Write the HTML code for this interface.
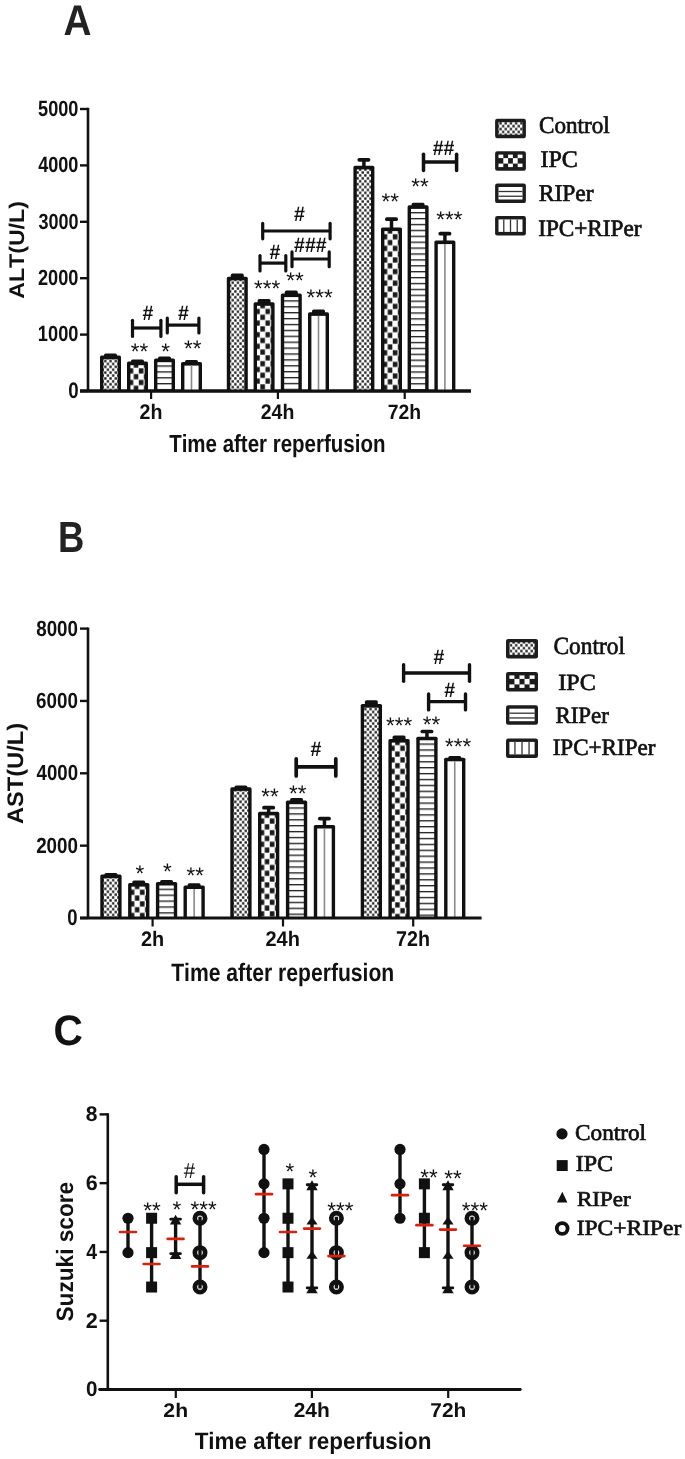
<!DOCTYPE html>
<html><head><meta charset="utf-8"><style>
html,body{margin:0;padding:0;background:#fff;}
svg{display:block;will-change:transform;}
text{font-kerning:none;text-rendering:geometricPrecision;}
</style></head><body>
<svg width="685" height="1459" viewBox="0 0 685 1459">
<defs>
<pattern id="pC" patternUnits="userSpaceOnUse" width="5.2" height="5.8">
 <rect width="5.2" height="5.8" fill="#fff"/>
 <rect x="0.2" y="0.25" width="2.3" height="2.4" fill="#1a1a1a"/>
 <rect x="2.8" y="3.15" width="2.3" height="2.4" fill="#1a1a1a"/>
</pattern>
<pattern id="pI" patternUnits="userSpaceOnUse" width="11.2" height="11.4">
 <rect width="11.2" height="11.4" fill="#fff"/>
 <rect x="0.6" y="0.6" width="4.4" height="4.6" fill="#1a1a1a"/>
 <rect x="6.2" y="6.3" width="4.4" height="4.6" fill="#1a1a1a"/>
</pattern>
<pattern id="pR" patternUnits="userSpaceOnUse" width="10" height="5.85">
 <rect width="10" height="5.85" fill="#fff"/>
 <rect y="0" width="10" height="1.35" fill="#222"/>
</pattern>
</defs>
<rect width="685" height="1459" fill="#fff"/>
<text transform="translate(63.53,34.50) scale(0.9008,1)" font-family="Liberation Sans" font-weight="bold" font-size="43.02" fill="#222">A</text>
<line x1="88" y1="107.8" x2="88" y2="391" stroke="#111" stroke-width="2.6" stroke-linecap="butt"/>
<line x1="80" y1="391" x2="471" y2="391" stroke="#111" stroke-width="2.8" stroke-linecap="butt"/>
<line x1="80" y1="391.0" x2="88" y2="391.0" stroke="#111" stroke-width="2.4" stroke-linecap="butt"/>
<line x1="80" y1="334.6" x2="88" y2="334.6" stroke="#111" stroke-width="2.4" stroke-linecap="butt"/>
<line x1="80" y1="278.2" x2="88" y2="278.2" stroke="#111" stroke-width="2.4" stroke-linecap="butt"/>
<line x1="80" y1="221.8" x2="88" y2="221.8" stroke="#111" stroke-width="2.4" stroke-linecap="butt"/>
<line x1="80" y1="165.4" x2="88" y2="165.4" stroke="#111" stroke-width="2.4" stroke-linecap="butt"/>
<line x1="80" y1="109.0" x2="88" y2="109.0" stroke="#111" stroke-width="2.4" stroke-linecap="butt"/>
<text transform="translate(38.04,115.78) scale(0.8243,1)" font-family="Liberation Sans" font-weight="bold" font-size="22.03" fill="#111">5000</text>
<text transform="translate(38.13,172.18) scale(0.8225,1)" font-family="Liberation Sans" font-weight="bold" font-size="22.03" fill="#111">4000</text>
<text transform="translate(38.39,228.55) scale(0.8188,1)" font-family="Liberation Sans" font-weight="bold" font-size="21.99" fill="#111">3000</text>
<text transform="translate(37.97,284.98) scale(0.8258,1)" font-family="Liberation Sans" font-weight="bold" font-size="22.03" fill="#111">2000</text>
<text transform="translate(37.85,341.38) scale(0.8283,1)" font-family="Liberation Sans" font-weight="bold" font-size="22.03" fill="#111">1000</text>
<text transform="translate(68.16,397.58) scale(0.8333,1)" font-family="Liberation Sans" font-weight="bold" font-size="22.46" fill="#111">0</text>
<line x1="151.1" y1="391" x2="151.1" y2="399" stroke="#111" stroke-width="2.2" stroke-linecap="butt"/>
<line x1="277.9" y1="391" x2="277.9" y2="399" stroke="#111" stroke-width="2.2" stroke-linecap="butt"/>
<line x1="404.7" y1="391" x2="404.7" y2="399" stroke="#111" stroke-width="2.2" stroke-linecap="butt"/>
<text transform="translate(139.52,418.70) scale(0.9292,1)" font-family="Liberation Sans" font-weight="bold" font-size="21.11" fill="#111">2h</text>
<text transform="translate(260.72,418.70) scale(0.9231,1)" font-family="Liberation Sans" font-weight="bold" font-size="21.11" fill="#111">24h</text>
<text transform="translate(387.77,418.70) scale(0.9312,1)" font-family="Liberation Sans" font-weight="bold" font-size="20.84" fill="#111">72h</text>
<text transform="translate(169.17,452.00) scale(0.8291,1)" font-family="Liberation Sans" font-weight="bold" font-size="24.71" fill="#111">Time after reperfusion</text>
<text transform="translate(24.00,298.20) rotate(-90) scale(1.0900,1) translate(-0.53,0)" font-family="Liberation Sans" font-weight="bold" font-size="21.22" fill="#111">ALT(U/L)</text>
<rect x="100" y="355.6" width="21" height="36.39999999999998" fill="#111" rx="1.6"/>
<rect x="103.40" y="359.20" width="14.20" height="31.80" fill="url(#pC)"/>
<rect x="104.00" y="353.60" width="13" height="3.70" rx="1.7" fill="#111"/>
<rect x="127" y="361.6" width="21" height="30.399999999999977" fill="#111" rx="1.6"/>
<pattern id="pI1" patternUnits="userSpaceOnUse" x="133.50" y="368.00" width="10.2" height="11.6"><rect width="10.2" height="11.6" fill="#fff"/><rect x="5.35" y="0.3" width="4.6" height="5.2" fill="#1a1a1a"/><rect x="0.25" y="6.1" width="4.6" height="5.2" fill="#1a1a1a"/></pattern>
<rect x="130.40" y="365.20" width="14.20" height="25.80" fill="url(#pI1)"/>
<rect x="131.00" y="359.60" width="13" height="3.70" rx="1.7" fill="#111"/>
<rect x="154" y="358.6" width="21" height="33.39999999999998" fill="#111" rx="1.6"/>
<pattern id="pR2" patternUnits="userSpaceOnUse" x="0" y="365.35" width="10" height="5.9"><rect width="10" height="5.9" fill="#fff"/><rect y="0" width="10" height="1.35" fill="#222"/></pattern>
<rect x="157.40" y="362.20" width="14.20" height="28.80" fill="url(#pR2)"/>
<rect x="158.00" y="356.60" width="13" height="3.70" rx="1.7" fill="#111"/>
<rect x="181" y="362" width="21" height="30" fill="#111" rx="1.6"/>
<rect x="184.40" y="365.60" width="14.20" height="25.40" fill="#fff"/>
<line x1="191.5" y1="365.6" x2="191.5" y2="391" stroke="#8a8a8a" stroke-width="1.6" stroke-linecap="butt"/>
<rect x="185.00" y="360.00" width="13" height="3.70" rx="1.7" fill="#111"/>
<rect x="226.8" y="276.8" width="21" height="115.19999999999999" fill="#111" rx="1.6"/>
<rect x="230.20" y="280.40" width="14.20" height="110.60" fill="url(#pC)"/>
<rect x="230.80" y="273.60" width="13" height="4.90" rx="1.7" fill="#111"/>
<rect x="253.6" y="302.2" width="21" height="89.80000000000001" fill="#111" rx="1.6"/>
<pattern id="pI3" patternUnits="userSpaceOnUse" x="260.10" y="308.60" width="10.2" height="11.6"><rect width="10.2" height="11.6" fill="#fff"/><rect x="5.35" y="0.3" width="4.6" height="5.2" fill="#1a1a1a"/><rect x="0.25" y="6.1" width="4.6" height="5.2" fill="#1a1a1a"/></pattern>
<rect x="257.00" y="305.80" width="14.20" height="85.20" fill="url(#pI3)"/>
<rect x="257.60" y="299.00" width="13" height="4.90" rx="1.7" fill="#111"/>
<rect x="280.8" y="293.5" width="21" height="98.5" fill="#111" rx="1.6"/>
<pattern id="pR4" patternUnits="userSpaceOnUse" x="0" y="300.25" width="10" height="5.9"><rect width="10" height="5.9" fill="#fff"/><rect y="0" width="10" height="1.35" fill="#222"/></pattern>
<rect x="284.20" y="297.10" width="14.20" height="93.90" fill="url(#pR4)"/>
<rect x="284.80" y="290.50" width="13" height="4.70" rx="1.7" fill="#111"/>
<rect x="308" y="312.3" width="21" height="79.69999999999999" fill="#111" rx="1.6"/>
<rect x="311.40" y="315.90" width="14.20" height="75.10" fill="#fff"/>
<line x1="318.5" y1="315.90000000000003" x2="318.5" y2="391" stroke="#8a8a8a" stroke-width="1.6" stroke-linecap="butt"/>
<rect x="312.00" y="309.50" width="13" height="4.50" rx="1.7" fill="#111"/>
<rect x="353.4" y="165.8" width="21" height="226.2" fill="#111" rx="1.6"/>
<rect x="356.80" y="169.40" width="14.20" height="221.60" fill="url(#pC)"/>
<line x1="363.9" y1="166.8" x2="363.9" y2="159.8" stroke="#111" stroke-width="3.5" stroke-linecap="butt"/>
<rect x="357.40" y="157.95" width="13" height="3.7" rx="1.85" fill="#111"/>
<rect x="381" y="227.5" width="21" height="164.5" fill="#111" rx="1.6"/>
<pattern id="pI5" patternUnits="userSpaceOnUse" x="387.50" y="233.90" width="10.2" height="11.6"><rect width="10.2" height="11.6" fill="#fff"/><rect x="5.35" y="0.3" width="4.6" height="5.2" fill="#1a1a1a"/><rect x="0.25" y="6.1" width="4.6" height="5.2" fill="#1a1a1a"/></pattern>
<rect x="384.40" y="231.10" width="14.20" height="159.90" fill="url(#pI5)"/>
<line x1="391.5" y1="228.5" x2="391.5" y2="219.2" stroke="#111" stroke-width="3.5" stroke-linecap="butt"/>
<rect x="385.00" y="217.35" width="13" height="3.7" rx="1.85" fill="#111"/>
<rect x="407.6" y="205.3" width="21" height="186.7" fill="#111" rx="1.6"/>
<pattern id="pR6" patternUnits="userSpaceOnUse" x="0" y="212.05" width="10" height="5.9"><rect width="10" height="5.9" fill="#fff"/><rect y="0" width="10" height="1.35" fill="#222"/></pattern>
<rect x="411.00" y="208.90" width="14.20" height="182.10" fill="url(#pR6)"/>
<rect x="411.60" y="202.70" width="13" height="4.30" rx="1.7" fill="#111"/>
<rect x="434.4" y="240.5" width="21" height="151.5" fill="#111" rx="1.6"/>
<rect x="437.80" y="244.10" width="14.20" height="146.90" fill="#fff"/>
<line x1="444.9" y1="244.1" x2="444.9" y2="391" stroke="#8a8a8a" stroke-width="1.6" stroke-linecap="butt"/>
<line x1="444.9" y1="241.5" x2="444.9" y2="233.7" stroke="#111" stroke-width="3.5" stroke-linecap="butt"/>
<rect x="438.40" y="231.85" width="13" height="3.7" rx="1.85" fill="#111"/>
<line x1="80" y1="391" x2="471" y2="391" stroke="#111" stroke-width="2.8" stroke-linecap="butt"/>
<line x1="132.5" y1="328" x2="160.9" y2="328" stroke="#111" stroke-width="3.2" stroke-linecap="butt"/>
<line x1="132.5" y1="320.3" x2="132.5" y2="336.4" stroke="#111" stroke-width="3.2" stroke-linecap="round"/>
<line x1="160.9" y1="320.3" x2="160.9" y2="336.4" stroke="#111" stroke-width="3.2" stroke-linecap="round"/>
<line x1="167.3" y1="325.1" x2="198.9" y2="325.1" stroke="#111" stroke-width="3.2" stroke-linecap="butt"/>
<line x1="167.3" y1="318.0" x2="167.3" y2="332.9" stroke="#111" stroke-width="3.2" stroke-linecap="round"/>
<line x1="198.9" y1="318.0" x2="198.9" y2="332.9" stroke="#111" stroke-width="3.2" stroke-linecap="round"/>
<line x1="262.7" y1="231" x2="330.1" y2="231" stroke="#111" stroke-width="3.2" stroke-linecap="butt"/>
<line x1="262.7" y1="223.4" x2="262.7" y2="238.8" stroke="#111" stroke-width="3.2" stroke-linecap="round"/>
<line x1="330.1" y1="223.4" x2="330.1" y2="238.8" stroke="#111" stroke-width="3.2" stroke-linecap="round"/>
<line x1="260" y1="263.1" x2="285.8" y2="263.1" stroke="#111" stroke-width="3.2" stroke-linecap="butt"/>
<line x1="260" y1="255.6" x2="260" y2="271.0" stroke="#111" stroke-width="3.2" stroke-linecap="round"/>
<line x1="285.8" y1="255.6" x2="285.8" y2="271.0" stroke="#111" stroke-width="3.2" stroke-linecap="round"/>
<line x1="292" y1="259" x2="329.2" y2="259" stroke="#111" stroke-width="3.2" stroke-linecap="butt"/>
<line x1="292" y1="251.9" x2="292" y2="266.7" stroke="#111" stroke-width="3.2" stroke-linecap="round"/>
<line x1="329.2" y1="251.9" x2="329.2" y2="266.7" stroke="#111" stroke-width="3.2" stroke-linecap="round"/>
<line x1="423.5" y1="162" x2="456.6" y2="162" stroke="#111" stroke-width="3.5" stroke-linecap="butt"/>
<line x1="423.5" y1="154.25" x2="423.5" y2="170.45" stroke="#111" stroke-width="3.5" stroke-linecap="round"/>
<line x1="456.6" y1="154.25" x2="456.6" y2="170.45" stroke="#111" stroke-width="3.5" stroke-linecap="round"/>
<text transform="translate(142.41,320.25) scale(0.9300,1)" font-family="Liberation Sans" font-weight="bold" font-size="21.00" fill="#111">#</text>
<text transform="translate(178.01,320.00) scale(0.9300,1)" font-family="Liberation Sans" font-weight="bold" font-size="21.00" fill="#111">#</text>
<text transform="translate(294.01,221.15) scale(0.9300,1)" font-family="Liberation Sans" font-weight="bold" font-size="21.00" fill="#111">#</text>
<text transform="translate(269.41,259.00) scale(0.9300,1)" font-family="Liberation Sans" font-weight="bold" font-size="21.00" fill="#111">#</text>
<text transform="translate(294.05,251.85) scale(0.9300,1)" font-family="Liberation Sans" font-weight="bold" font-size="21.00" fill="#111">###</text>
<text transform="translate(432.73,154.55) scale(0.9300,1)" font-family="Liberation Sans" font-weight="bold" font-size="21.00" fill="#111">##</text>
<text transform="translate(130.64,358.53) scale(1.0000,1)" font-family="Liberation Sans" font-weight="normal" font-size="22.50" fill="#111">**</text>
<text transform="translate(161.32,358.73) scale(1.0000,1)" font-family="Liberation Sans" font-weight="normal" font-size="22.50" fill="#111">*</text>
<text transform="translate(184.04,355.63) scale(1.0000,1)" font-family="Liberation Sans" font-weight="normal" font-size="22.50" fill="#111">**</text>
<text transform="translate(253.96,296.23) scale(1.0000,1)" font-family="Liberation Sans" font-weight="normal" font-size="22.50" fill="#111">***</text>
<text transform="translate(286.34,287.68) scale(1.0000,1)" font-family="Liberation Sans" font-weight="normal" font-size="22.50" fill="#111">**</text>
<text transform="translate(306.46,304.78) scale(1.0000,1)" font-family="Liberation Sans" font-weight="normal" font-size="22.50" fill="#111">***</text>
<text transform="translate(381.54,209.28) scale(1.0000,1)" font-family="Liberation Sans" font-weight="normal" font-size="22.50" fill="#111">**</text>
<text transform="translate(411.24,194.03) scale(1.0000,1)" font-family="Liberation Sans" font-weight="normal" font-size="22.50" fill="#111">**</text>
<text transform="translate(436.31,227.33) scale(1.0000,1)" font-family="Liberation Sans" font-weight="normal" font-size="22.50" fill="#111">***</text>
<rect x="495.1" y="118.8" width="30.8" height="19.5" rx="2.2" fill="#1c1c1c"/>
<rect x="498.50" y="122.20" width="24.00" height="12.50" fill="url(#pC)"/>
<rect x="495.1" y="151.2" width="30.8" height="19.5" rx="2.2" fill="#1c1c1c"/>
<rect x="498.50" y="154.60" width="4.80" height="3.50" fill="#fff"/>
<rect x="508.10" y="154.60" width="4.80" height="3.50" fill="#fff"/>
<rect x="517.70" y="154.60" width="4.80" height="3.50" fill="#fff"/>
<rect x="503.30" y="158.10" width="4.80" height="5.50" fill="#fff"/>
<rect x="512.90" y="158.10" width="4.80" height="5.50" fill="#fff"/>
<rect x="498.50" y="163.60" width="4.80" height="3.50" fill="#fff"/>
<rect x="508.10" y="163.60" width="4.80" height="3.50" fill="#fff"/>
<rect x="517.70" y="163.60" width="4.80" height="3.50" fill="#fff"/>
<rect x="495.1" y="183.6" width="30.8" height="19.5" rx="2.2" fill="#1c1c1c"/>
<rect x="498.50" y="187.00" width="24.00" height="12.50" fill="#fff"/>
<line x1="498.5" y1="191.5" x2="522.5" y2="191.5" stroke="#333" stroke-width="1.3" stroke-linecap="butt"/>
<line x1="498.5" y1="196.25" x2="522.5" y2="196.25" stroke="#333" stroke-width="1.3" stroke-linecap="butt"/>
<rect x="495.1" y="216.0" width="30.8" height="19.5" rx="2.2" fill="#1c1c1c"/>
<rect x="498.50" y="219.40" width="24.00" height="12.50" fill="#fff"/>
<line x1="503.78" y1="219.4" x2="503.78" y2="231.9" stroke="#333" stroke-width="1.3" stroke-linecap="butt"/>
<line x1="510.5" y1="219.4" x2="510.5" y2="231.9" stroke="#333" stroke-width="1.3" stroke-linecap="butt"/>
<line x1="517.22" y1="219.4" x2="517.22" y2="231.9" stroke="#333" stroke-width="1.3" stroke-linecap="butt"/>
<text transform="translate(538.95,133.40) scale(0.9698,1)" font-family="Liberation Serif" font-weight="normal" font-size="23.86" fill="#111" stroke="#111" stroke-width="0.7">Control</text>
<text transform="translate(540.53,167.00) scale(1.0058,1)" font-family="Liberation Serif" font-weight="normal" font-size="23.82" fill="#111" stroke="#111" stroke-width="0.7">IPC</text>
<text transform="translate(538.72,201.00) scale(0.9811,1)" font-family="Liberation Serif" font-weight="normal" font-size="23.98" fill="#111" stroke="#111" stroke-width="0.7">RIPer</text>
<text transform="translate(538.16,235.80) scale(0.9867,1)" font-family="Liberation Serif" font-weight="normal" font-size="23.52" fill="#111" stroke="#111" stroke-width="0.7">IPC+RIPer</text>
<text transform="translate(57.96,551.80) scale(0.8348,1)" font-family="Liberation Sans" font-weight="bold" font-size="43.61" fill="#222">B</text>
<line x1="88" y1="627.4" x2="88" y2="918" stroke="#111" stroke-width="2.6" stroke-linecap="butt"/>
<line x1="80" y1="918.0" x2="88" y2="918.0" stroke="#111" stroke-width="2.4" stroke-linecap="butt"/>
<line x1="80" y1="845.65" x2="88" y2="845.65" stroke="#111" stroke-width="2.4" stroke-linecap="butt"/>
<line x1="80" y1="773.3" x2="88" y2="773.3" stroke="#111" stroke-width="2.4" stroke-linecap="butt"/>
<line x1="80" y1="700.95" x2="88" y2="700.95" stroke="#111" stroke-width="2.4" stroke-linecap="butt"/>
<line x1="80" y1="628.6" x2="88" y2="628.6" stroke="#111" stroke-width="2.4" stroke-linecap="butt"/>
<text transform="translate(36.20,635.64) scale(0.8597,1)" font-family="Liberation Sans" font-weight="bold" font-size="21.89" fill="#111">8000</text>
<text transform="translate(36.11,707.99) scale(0.8617,1)" font-family="Liberation Sans" font-weight="bold" font-size="21.89" fill="#111">6000</text>
<text transform="translate(36.52,780.34) scale(0.8531,1)" font-family="Liberation Sans" font-weight="bold" font-size="21.89" fill="#111">4000</text>
<text transform="translate(36.15,852.69) scale(0.8609,1)" font-family="Liberation Sans" font-weight="bold" font-size="21.89" fill="#111">2000</text>
<text transform="translate(67.37,924.98) scale(0.8137,1)" font-family="Liberation Sans" font-weight="bold" font-size="22.74" fill="#111">0</text>
<line x1="152.6" y1="918" x2="152.6" y2="926.5" stroke="#111" stroke-width="2.2" stroke-linecap="butt"/>
<line x1="283" y1="918" x2="283" y2="926.5" stroke="#111" stroke-width="2.2" stroke-linecap="butt"/>
<line x1="413.2" y1="918" x2="413.2" y2="926.5" stroke="#111" stroke-width="2.2" stroke-linecap="butt"/>
<text transform="translate(141.01,946.30) scale(0.9487,1)" font-family="Liberation Sans" font-weight="bold" font-size="20.98" fill="#111">2h</text>
<text transform="translate(265.51,946.40) scale(0.9463,1)" font-family="Liberation Sans" font-weight="bold" font-size="21.11" fill="#111">24h</text>
<text transform="translate(396.05,946.40) scale(0.9216,1)" font-family="Liberation Sans" font-weight="bold" font-size="21.39" fill="#111">72h</text>
<text transform="translate(171.16,980.50) scale(0.8405,1)" font-family="Liberation Sans" font-weight="bold" font-size="25.15" fill="#111">Time after reperfusion</text>
<text transform="translate(22.50,823.50) rotate(-90) scale(1.0499,1) translate(-0.56,0)" font-family="Liberation Sans" font-weight="bold" font-size="22.53" fill="#111">AST(U/L)</text>
<rect x="100.3" y="874.5" width="21.3" height="44.5" fill="#111" rx="1.6"/>
<rect x="103.70" y="878.10" width="14.50" height="39.90" fill="url(#pC)"/>
<rect x="104.45" y="873.00" width="13" height="3.20" rx="1.7" fill="#111"/>
<rect x="128.1" y="883" width="21.3" height="36" fill="#111" rx="1.6"/>
<pattern id="pI7" patternUnits="userSpaceOnUse" x="134.60" y="889.40" width="10.2" height="11.6"><rect width="10.2" height="11.6" fill="#fff"/><rect x="5.35" y="0.3" width="4.6" height="5.2" fill="#1a1a1a"/><rect x="0.25" y="6.1" width="4.6" height="5.2" fill="#1a1a1a"/></pattern>
<rect x="131.50" y="886.60" width="14.50" height="31.40" fill="url(#pI7)"/>
<rect x="132.25" y="880.60" width="13" height="4.10" rx="1.7" fill="#111"/>
<rect x="155.9" y="881.9" width="21.3" height="37.10000000000002" fill="#111" rx="1.6"/>
<pattern id="pR8" patternUnits="userSpaceOnUse" x="0" y="888.65" width="10" height="5.9"><rect width="10" height="5.9" fill="#fff"/><rect y="0" width="10" height="1.35" fill="#222"/></pattern>
<rect x="159.30" y="885.50" width="14.50" height="32.50" fill="url(#pR8)"/>
<rect x="160.05" y="880.00" width="13" height="3.60" rx="1.7" fill="#111"/>
<rect x="183.5" y="885.4" width="21.3" height="33.60000000000002" fill="#111" rx="1.6"/>
<rect x="186.90" y="889.00" width="14.50" height="29.00" fill="#fff"/>
<line x1="194.15" y1="889.0" x2="194.15" y2="918" stroke="#8a8a8a" stroke-width="1.6" stroke-linecap="butt"/>
<rect x="187.65" y="883.20" width="13" height="3.90" rx="1.7" fill="#111"/>
<rect x="230.3" y="787.3" width="21.3" height="131.70000000000005" fill="#111" rx="1.6"/>
<rect x="233.70" y="790.90" width="14.50" height="127.10" fill="url(#pC)"/>
<rect x="234.45" y="785.50" width="13" height="3.50" rx="1.7" fill="#111"/>
<rect x="258" y="811.8" width="21.3" height="107.20000000000005" fill="#111" rx="1.6"/>
<pattern id="pI9" patternUnits="userSpaceOnUse" x="264.50" y="818.20" width="10.2" height="11.6"><rect width="10.2" height="11.6" fill="#fff"/><rect x="5.35" y="0.3" width="4.6" height="5.2" fill="#1a1a1a"/><rect x="0.25" y="6.1" width="4.6" height="5.2" fill="#1a1a1a"/></pattern>
<rect x="261.40" y="815.40" width="14.50" height="102.60" fill="url(#pI9)"/>
<line x1="268.65" y1="812.8" x2="268.65" y2="807.7" stroke="#111" stroke-width="3.5" stroke-linecap="butt"/>
<rect x="262.15" y="805.85" width="13" height="3.7" rx="1.85" fill="#111"/>
<rect x="285.9" y="800.6" width="21.3" height="118.39999999999998" fill="#111" rx="1.6"/>
<pattern id="pR10" patternUnits="userSpaceOnUse" x="0" y="807.35" width="10" height="5.9"><rect width="10" height="5.9" fill="#fff"/><rect y="0" width="10" height="1.35" fill="#222"/></pattern>
<rect x="289.30" y="804.20" width="14.50" height="113.80" fill="url(#pR10)"/>
<rect x="290.05" y="798.00" width="13" height="4.30" rx="1.7" fill="#111"/>
<rect x="313.8" y="824.9" width="21.3" height="94.10000000000002" fill="#111" rx="1.6"/>
<rect x="317.20" y="828.50" width="14.50" height="89.50" fill="#fff"/>
<line x1="324.45" y1="828.5" x2="324.45" y2="918" stroke="#8a8a8a" stroke-width="1.6" stroke-linecap="butt"/>
<line x1="324.45" y1="825.9" x2="324.45" y2="818.6" stroke="#111" stroke-width="3.5" stroke-linecap="butt"/>
<rect x="317.95" y="816.75" width="13" height="3.7" rx="1.85" fill="#111"/>
<rect x="360.7" y="704" width="21.3" height="215" fill="#111" rx="1.6"/>
<rect x="364.10" y="707.60" width="14.50" height="210.40" fill="url(#pC)"/>
<rect x="364.85" y="700.30" width="13" height="5.40" rx="1.7" fill="#111"/>
<rect x="388.4" y="739" width="21.3" height="180" fill="#111" rx="1.6"/>
<pattern id="pI11" patternUnits="userSpaceOnUse" x="394.90" y="745.40" width="10.2" height="11.6"><rect width="10.2" height="11.6" fill="#fff"/><rect x="5.35" y="0.3" width="4.6" height="5.2" fill="#1a1a1a"/><rect x="0.25" y="6.1" width="4.6" height="5.2" fill="#1a1a1a"/></pattern>
<rect x="391.80" y="742.60" width="14.50" height="175.40" fill="url(#pI11)"/>
<rect x="392.55" y="735.40" width="13" height="5.30" rx="1.7" fill="#111"/>
<rect x="416.3" y="736.7" width="21.3" height="182.29999999999995" fill="#111" rx="1.6"/>
<pattern id="pR12" patternUnits="userSpaceOnUse" x="0" y="743.45" width="10" height="5.9"><rect width="10" height="5.9" fill="#fff"/><rect y="0" width="10" height="1.35" fill="#222"/></pattern>
<rect x="419.70" y="740.30" width="14.50" height="177.70" fill="url(#pR12)"/>
<line x1="426.95" y1="737.7" x2="426.95" y2="731.5" stroke="#111" stroke-width="3.5" stroke-linecap="butt"/>
<rect x="420.45" y="729.65" width="13" height="3.7" rx="1.85" fill="#111"/>
<rect x="444.1" y="757.7" width="21.3" height="161.29999999999995" fill="#111" rx="1.6"/>
<rect x="447.50" y="761.30" width="14.50" height="156.70" fill="#fff"/>
<line x1="454.75" y1="761.3000000000001" x2="454.75" y2="918" stroke="#8a8a8a" stroke-width="1.6" stroke-linecap="butt"/>
<rect x="448.25" y="756.00" width="13" height="3.40" rx="1.7" fill="#111"/>
<line x1="80" y1="918" x2="481.6" y2="918" stroke="#111" stroke-width="2.8" stroke-linecap="butt"/>
<line x1="296.2" y1="766.8" x2="335.8" y2="766.8" stroke="#111" stroke-width="3.7" stroke-linecap="butt"/>
<line x1="296.2" y1="758.85" x2="296.2" y2="775.9499999999999" stroke="#111" stroke-width="3.7" stroke-linecap="round"/>
<line x1="335.8" y1="758.85" x2="335.8" y2="775.9499999999999" stroke="#111" stroke-width="3.7" stroke-linecap="round"/>
<line x1="403.6" y1="673" x2="469.5" y2="673" stroke="#111" stroke-width="3.4" stroke-linecap="butt"/>
<line x1="403.6" y1="664.8000000000001" x2="403.6" y2="681.3" stroke="#111" stroke-width="3.4" stroke-linecap="round"/>
<line x1="469.5" y1="664.8000000000001" x2="469.5" y2="681.3" stroke="#111" stroke-width="3.4" stroke-linecap="round"/>
<line x1="428.6" y1="701.6" x2="465.5" y2="701.6" stroke="#111" stroke-width="3.4" stroke-linecap="butt"/>
<line x1="428.6" y1="694.0" x2="428.6" y2="709.9" stroke="#111" stroke-width="3.4" stroke-linecap="round"/>
<line x1="465.5" y1="694.0" x2="465.5" y2="709.9" stroke="#111" stroke-width="3.4" stroke-linecap="round"/>
<text transform="translate(310.46,756.45) scale(0.9300,1)" font-family="Liberation Sans" font-weight="bold" font-size="21.00" fill="#111">#</text>
<text transform="translate(433.41,664.45) scale(0.9300,1)" font-family="Liberation Sans" font-weight="bold" font-size="21.00" fill="#111">#</text>
<text transform="translate(444.21,696.85) scale(0.9300,1)" font-family="Liberation Sans" font-weight="bold" font-size="21.00" fill="#111">#</text>
<text transform="translate(135.42,881.18) scale(1.0000,1)" font-family="Liberation Sans" font-weight="normal" font-size="22.50" fill="#111">*</text>
<text transform="translate(162.97,879.43) scale(1.0000,1)" font-family="Liberation Sans" font-weight="normal" font-size="22.50" fill="#111">*</text>
<text transform="translate(186.59,882.88) scale(1.0000,1)" font-family="Liberation Sans" font-weight="normal" font-size="22.50" fill="#111">**</text>
<text transform="translate(261.29,804.48) scale(1.0000,1)" font-family="Liberation Sans" font-weight="normal" font-size="22.50" fill="#111">**</text>
<text transform="translate(289.09,801.43) scale(1.0000,1)" font-family="Liberation Sans" font-weight="normal" font-size="22.50" fill="#111">**</text>
<text transform="translate(386.01,733.48) scale(1.0000,1)" font-family="Liberation Sans" font-weight="normal" font-size="22.50" fill="#111">***</text>
<text transform="translate(422.84,732.48) scale(1.0000,1)" font-family="Liberation Sans" font-weight="normal" font-size="22.50" fill="#111">**</text>
<text transform="translate(445.06,753.98) scale(1.0000,1)" font-family="Liberation Sans" font-weight="normal" font-size="22.50" fill="#111">***</text>
<rect x="506" y="638.9" width="32" height="19.5" rx="2.2" fill="#1c1c1c"/>
<rect x="509.40" y="642.30" width="25.20" height="12.50" fill="url(#pC)"/>
<rect x="506" y="672" width="32" height="19.5" rx="2.2" fill="#1c1c1c"/>
<rect x="509.40" y="675.40" width="5.04" height="3.50" fill="#fff"/>
<rect x="519.48" y="675.40" width="5.04" height="3.50" fill="#fff"/>
<rect x="529.56" y="675.40" width="5.04" height="3.50" fill="#fff"/>
<rect x="514.44" y="678.90" width="5.04" height="5.50" fill="#fff"/>
<rect x="524.52" y="678.90" width="5.04" height="5.50" fill="#fff"/>
<rect x="509.40" y="684.40" width="5.04" height="3.50" fill="#fff"/>
<rect x="519.48" y="684.40" width="5.04" height="3.50" fill="#fff"/>
<rect x="529.56" y="684.40" width="5.04" height="3.50" fill="#fff"/>
<rect x="506" y="705.3" width="32" height="19.5" rx="2.2" fill="#1c1c1c"/>
<rect x="509.40" y="708.70" width="25.20" height="12.50" fill="#fff"/>
<line x1="509.4" y1="713.1999999999999" x2="534.6" y2="713.1999999999999" stroke="#333" stroke-width="1.3" stroke-linecap="butt"/>
<line x1="509.4" y1="717.9499999999999" x2="534.6" y2="717.9499999999999" stroke="#333" stroke-width="1.3" stroke-linecap="butt"/>
<rect x="506" y="738.5" width="32" height="19.5" rx="2.2" fill="#1c1c1c"/>
<rect x="509.40" y="741.90" width="25.20" height="12.50" fill="#fff"/>
<line x1="514.944" y1="741.9" x2="514.944" y2="754.4" stroke="#333" stroke-width="1.3" stroke-linecap="butt"/>
<line x1="522.0" y1="741.9" x2="522.0" y2="754.4" stroke="#333" stroke-width="1.3" stroke-linecap="butt"/>
<line x1="529.0559999999999" y1="741.9" x2="529.0559999999999" y2="754.4" stroke="#333" stroke-width="1.3" stroke-linecap="butt"/>
<text transform="translate(553.44,653.60) scale(0.9509,1)" font-family="Liberation Serif" font-weight="normal" font-size="24.62" fill="#111" stroke="#111" stroke-width="0.7">Control</text>
<text transform="translate(558.23,690.20) scale(1.0381,1)" font-family="Liberation Serif" font-weight="normal" font-size="23.21" fill="#111" stroke="#111" stroke-width="0.7">IPC</text>
<text transform="translate(555.44,723.30) scale(0.9788,1)" font-family="Liberation Serif" font-weight="normal" font-size="23.37" fill="#111" stroke="#111" stroke-width="0.7">RIPer</text>
<text transform="translate(552.67,755.40) scale(0.9873,1)" font-family="Liberation Serif" font-weight="normal" font-size="23.37" fill="#111" stroke="#111" stroke-width="0.7">IPC+RIPer</text>
<text transform="translate(53.53,1045.18) scale(0.9507,1)" font-family="Liberation Sans" font-weight="bold" font-size="42.80" fill="#111">C</text>
<line x1="107.8" y1="1113.18" x2="107.8" y2="1389.5" stroke="#111" stroke-width="2.6" stroke-linecap="butt"/>
<line x1="99.6" y1="1389.5" x2="107.8" y2="1389.5" stroke="#111" stroke-width="2.4" stroke-linecap="butt"/>
<line x1="99.6" y1="1320.72" x2="107.8" y2="1320.72" stroke="#111" stroke-width="2.4" stroke-linecap="butt"/>
<line x1="99.6" y1="1251.94" x2="107.8" y2="1251.94" stroke="#111" stroke-width="2.4" stroke-linecap="butt"/>
<line x1="99.6" y1="1183.16" x2="107.8" y2="1183.16" stroke="#111" stroke-width="2.4" stroke-linecap="butt"/>
<line x1="99.6" y1="1114.38" x2="107.8" y2="1114.38" stroke="#111" stroke-width="2.4" stroke-linecap="butt"/>
<text transform="translate(85.83,1121.07) scale(0.9944,1)" font-family="Liberation Sans" font-weight="bold" font-size="21.19" fill="#111">8</text>
<text transform="translate(85.71,1189.85) scale(1.0155,1)" font-family="Liberation Sans" font-weight="bold" font-size="21.19" fill="#111">6</text>
<text transform="translate(86.21,1258.84) scale(0.8905,1)" font-family="Liberation Sans" font-weight="bold" font-size="21.80" fill="#111">4</text>
<text transform="translate(85.75,1327.62) scale(1.0055,1)" font-family="Liberation Sans" font-weight="bold" font-size="21.48" fill="#111">2</text>
<text transform="translate(85.99,1396.19) scale(0.9726,1)" font-family="Liberation Sans" font-weight="bold" font-size="21.19" fill="#111">0</text>
<line x1="99.6" y1="1389.5" x2="520.3" y2="1389.5" stroke="#111" stroke-width="2.8" stroke-linecap="round"/>
<line x1="175.8" y1="1389.5" x2="175.8" y2="1398" stroke="#111" stroke-width="2.2" stroke-linecap="butt"/>
<line x1="311.9" y1="1389.5" x2="311.9" y2="1398" stroke="#111" stroke-width="2.2" stroke-linecap="butt"/>
<line x1="448.2" y1="1389.5" x2="448.2" y2="1398" stroke="#111" stroke-width="2.2" stroke-linecap="butt"/>
<text transform="translate(163.36,1416.50) scale(1.0747,1)" font-family="Liberation Sans" font-weight="bold" font-size="19.73" fill="#111">2h</text>
<text transform="translate(293.67,1416.70) scale(1.0265,1)" font-family="Liberation Sans" font-weight="bold" font-size="20.42" fill="#111">24h</text>
<text transform="translate(430.30,1416.70) scale(1.0367,1)" font-family="Liberation Sans" font-weight="bold" font-size="20.15" fill="#111">72h</text>
<text transform="translate(194.65,1448.90) scale(0.9468,1)" font-family="Liberation Sans" font-weight="bold" font-size="23.69" fill="#111">Time after reperfusion</text>
<text transform="translate(72.60,1320.90) rotate(-90) scale(0.9585,1) translate(-0.68,0)" font-family="Liberation Sans" font-weight="bold" font-size="23.63" fill="#111">Suzuki score</text>
<line x1="128" y1="1218.25" x2="128" y2="1252.64" stroke="#111" stroke-width="3.4" stroke-linecap="butt"/>
<circle cx="128" cy="1218.25" r="5.6" fill="#111"/>
<circle cx="128" cy="1252.64" r="5.6" fill="#111"/>
<line x1="120.1" y1="1232.006" x2="135.9" y2="1232.006" stroke="#d8200c" stroke-width="2.7" stroke-linecap="round"/>
<line x1="151.6" y1="1218.25" x2="151.6" y2="1287.03" stroke="#111" stroke-width="3.4" stroke-linecap="butt"/>
<rect x="146.1" y="1212.75" width="11" height="11" fill="#111"/>
<rect x="146.1" y="1247.14" width="11" height="11" fill="#111"/>
<rect x="146.1" y="1281.53" width="11" height="11" fill="#111"/>
<line x1="143.7" y1="1263.9887" x2="159.5" y2="1263.9887" stroke="#d8200c" stroke-width="2.7" stroke-linecap="round"/>
<line x1="175.6" y1="1218.25" x2="175.6" y2="1252.64" stroke="#111" stroke-width="3.4" stroke-linecap="butt"/>
<path d="M175.6,1214.65 L181.29999999999998,1224.55 L169.9,1224.55 Z" fill="#111"/>
<rect x="169.4" y="1217.75" width="12.4" height="2.8" rx="1.3" fill="#111"/>
<path d="M175.6,1249.0400000000002 L181.29999999999998,1258.94 L169.9,1258.94 Z" fill="#111"/>
<rect x="169.4" y="1252.14" width="12.4" height="2.8" rx="1.3" fill="#111"/>
<line x1="167.7" y1="1238.884" x2="183.5" y2="1238.884" stroke="#d8200c" stroke-width="2.7" stroke-linecap="round"/>
<line x1="200" y1="1216.75" x2="200" y2="1288.53" stroke="#111" stroke-width="3.4" stroke-linecap="butt"/>
<circle cx="200" cy="1218.25" r="5.15" fill="none" stroke="#111" stroke-width="4.7"/>
<circle cx="200" cy="1252.64" r="5.15" fill="none" stroke="#111" stroke-width="4.7"/>
<circle cx="200" cy="1287.03" r="5.15" fill="none" stroke="#111" stroke-width="4.7"/>
<line x1="192.1" y1="1266.396" x2="207.9" y2="1266.396" stroke="#d8200c" stroke-width="2.7" stroke-linecap="round"/>
<line x1="264" y1="1149.47" x2="264" y2="1252.64" stroke="#111" stroke-width="3.4" stroke-linecap="butt"/>
<circle cx="264" cy="1149.47" r="5.6" fill="#111"/>
<circle cx="264" cy="1183.8600000000001" r="5.6" fill="#111"/>
<circle cx="264" cy="1218.25" r="5.6" fill="#111"/>
<circle cx="264" cy="1252.64" r="5.6" fill="#111"/>
<line x1="256.1" y1="1194.1770000000001" x2="271.9" y2="1194.1770000000001" stroke="#d8200c" stroke-width="2.7" stroke-linecap="round"/>
<line x1="288" y1="1183.8600000000001" x2="288" y2="1287.03" stroke="#111" stroke-width="3.4" stroke-linecap="butt"/>
<rect x="282.5" y="1178.3600000000001" width="11" height="11" fill="#111"/>
<rect x="282.5" y="1212.75" width="11" height="11" fill="#111"/>
<rect x="282.5" y="1247.14" width="11" height="11" fill="#111"/>
<rect x="282.5" y="1281.53" width="11" height="11" fill="#111"/>
<line x1="280.1" y1="1232.006" x2="295.9" y2="1232.006" stroke="#d8200c" stroke-width="2.7" stroke-linecap="round"/>
<line x1="312" y1="1183.8600000000001" x2="312" y2="1287.03" stroke="#111" stroke-width="3.4" stroke-linecap="butt"/>
<path d="M312,1180.2600000000002 L317.7,1190.16 L306.3,1190.16 Z" fill="#111"/>
<rect x="305.8" y="1183.3600000000001" width="12.4" height="2.8" rx="1.3" fill="#111"/>
<path d="M312,1216.45 L317.6,1224.45 L306.4,1224.45 Z" fill="#111"/>
<path d="M312,1250.8400000000001 L317.6,1258.8400000000001 L306.4,1258.8400000000001 Z" fill="#111"/>
<path d="M312,1283.43 L317.7,1293.33 L306.3,1293.33 Z" fill="#111"/>
<rect x="305.8" y="1286.53" width="12.4" height="2.8" rx="1.3" fill="#111"/>
<line x1="304.1" y1="1228.567" x2="319.9" y2="1228.567" stroke="#d8200c" stroke-width="2.7" stroke-linecap="round"/>
<line x1="336.4" y1="1216.75" x2="336.4" y2="1288.53" stroke="#111" stroke-width="3.4" stroke-linecap="butt"/>
<circle cx="336.4" cy="1218.25" r="5.15" fill="none" stroke="#111" stroke-width="4.7"/>
<circle cx="336.4" cy="1252.64" r="5.15" fill="none" stroke="#111" stroke-width="4.7"/>
<circle cx="336.4" cy="1287.03" r="5.15" fill="none" stroke="#111" stroke-width="4.7"/>
<line x1="328.5" y1="1256.079" x2="344.29999999999995" y2="1256.079" stroke="#d8200c" stroke-width="2.7" stroke-linecap="round"/>
<line x1="400" y1="1149.47" x2="400" y2="1218.25" stroke="#111" stroke-width="3.4" stroke-linecap="butt"/>
<circle cx="400" cy="1149.47" r="5.6" fill="#111"/>
<circle cx="400" cy="1183.8600000000001" r="5.6" fill="#111"/>
<circle cx="400" cy="1218.25" r="5.6" fill="#111"/>
<line x1="392.1" y1="1195.2087000000001" x2="407.9" y2="1195.2087000000001" stroke="#d8200c" stroke-width="2.7" stroke-linecap="round"/>
<line x1="424.4" y1="1183.8600000000001" x2="424.4" y2="1252.64" stroke="#111" stroke-width="3.4" stroke-linecap="butt"/>
<rect x="418.9" y="1178.3600000000001" width="11" height="11" fill="#111"/>
<rect x="418.9" y="1212.75" width="11" height="11" fill="#111"/>
<rect x="418.9" y="1247.14" width="11" height="11" fill="#111"/>
<line x1="416.5" y1="1225.128" x2="432.29999999999995" y2="1225.128" stroke="#d8200c" stroke-width="2.7" stroke-linecap="round"/>
<line x1="448" y1="1183.8600000000001" x2="448" y2="1287.03" stroke="#111" stroke-width="3.4" stroke-linecap="butt"/>
<path d="M448,1180.2600000000002 L453.7,1190.16 L442.3,1190.16 Z" fill="#111"/>
<rect x="441.8" y="1183.3600000000001" width="12.4" height="2.8" rx="1.3" fill="#111"/>
<path d="M448,1216.45 L453.6,1224.45 L442.4,1224.45 Z" fill="#111"/>
<path d="M448,1250.8400000000001 L453.6,1258.8400000000001 L442.4,1258.8400000000001 Z" fill="#111"/>
<path d="M448,1283.43 L453.7,1293.33 L442.3,1293.33 Z" fill="#111"/>
<rect x="441.8" y="1286.53" width="12.4" height="2.8" rx="1.3" fill="#111"/>
<line x1="440.1" y1="1229.5987" x2="455.9" y2="1229.5987" stroke="#d8200c" stroke-width="2.7" stroke-linecap="round"/>
<line x1="472" y1="1216.75" x2="472" y2="1288.53" stroke="#111" stroke-width="3.4" stroke-linecap="butt"/>
<circle cx="472" cy="1218.25" r="5.15" fill="none" stroke="#111" stroke-width="4.7"/>
<circle cx="472" cy="1252.64" r="5.15" fill="none" stroke="#111" stroke-width="4.7"/>
<circle cx="472" cy="1287.03" r="5.15" fill="none" stroke="#111" stroke-width="4.7"/>
<line x1="464.1" y1="1245.762" x2="479.9" y2="1245.762" stroke="#d8200c" stroke-width="2.7" stroke-linecap="round"/>
<line x1="176.2" y1="1184.3" x2="203.6" y2="1184.3" stroke="#111" stroke-width="3.5" stroke-linecap="butt"/>
<line x1="176.2" y1="1176.75" x2="176.2" y2="1192.85" stroke="#111" stroke-width="3.5" stroke-linecap="round"/>
<line x1="203.6" y1="1176.75" x2="203.6" y2="1192.85" stroke="#111" stroke-width="3.5" stroke-linecap="round"/>
<text transform="translate(183.73,1178.40) scale(0.9500,1)" font-family="Liberation Sans" font-weight="normal" font-size="21.50" fill="#111">#</text>
<text transform="translate(143.24,1218.03) scale(1.0000,1)" font-family="Liberation Sans" font-weight="normal" font-size="22.50" fill="#111">**</text>
<text transform="translate(172.62,1217.23) scale(1.0000,1)" font-family="Liberation Sans" font-weight="normal" font-size="22.50" fill="#111">*</text>
<text transform="translate(190.46,1217.03) scale(1.0000,1)" font-family="Liberation Sans" font-weight="normal" font-size="22.50" fill="#111">***</text>
<text transform="translate(285.62,1179.23) scale(1.0000,1)" font-family="Liberation Sans" font-weight="normal" font-size="22.50" fill="#111">*</text>
<text transform="translate(308.62,1185.03) scale(1.0000,1)" font-family="Liberation Sans" font-weight="normal" font-size="22.50" fill="#111">*</text>
<text transform="translate(327.26,1217.83) scale(1.0000,1)" font-family="Liberation Sans" font-weight="normal" font-size="22.50" fill="#111">***</text>
<text transform="translate(420.24,1184.73) scale(1.0000,1)" font-family="Liberation Sans" font-weight="normal" font-size="22.50" fill="#111">**</text>
<text transform="translate(444.24,1185.63) scale(1.0000,1)" font-family="Liberation Sans" font-weight="normal" font-size="22.50" fill="#111">**</text>
<text transform="translate(461.86,1217.83) scale(1.0000,1)" font-family="Liberation Sans" font-weight="normal" font-size="22.50" fill="#111">***</text>
<circle cx="562" cy="1133.9" r="5.6" fill="#111"/>
<rect x="556.7" y="1160.1" width="11" height="10.9" fill="#111"/>
<path d="M562.3,1191.8 L567.4,1202.4 L556.9,1202.4 Z" fill="#111"/>
<circle cx="562.2" cy="1228.5" r="5.4" fill="none" stroke="#111" stroke-width="3.8"/>
<text transform="translate(575.05,1139.70) scale(1.0259,1)" font-family="Liberation Serif" font-weight="normal" font-size="22.65" fill="#111" stroke="#111" stroke-width="0.7">Control</text>
<text transform="translate(575.63,1171.30) scale(1.0662,1)" font-family="Liberation Serif" font-weight="normal" font-size="22.60" fill="#111" stroke="#111" stroke-width="0.7">IPC</text>
<text transform="translate(576.94,1205.70) scale(1.0914,1)" font-family="Liberation Serif" font-weight="normal" font-size="21.08" fill="#111" stroke="#111" stroke-width="0.7">RIPer</text>
<text transform="translate(576.75,1234.70) scale(1.0816,1)" font-family="Liberation Serif" font-weight="normal" font-size="21.69" fill="#111" stroke="#111" stroke-width="0.7">IPC+RIPer</text>
</svg>
</body></html>
